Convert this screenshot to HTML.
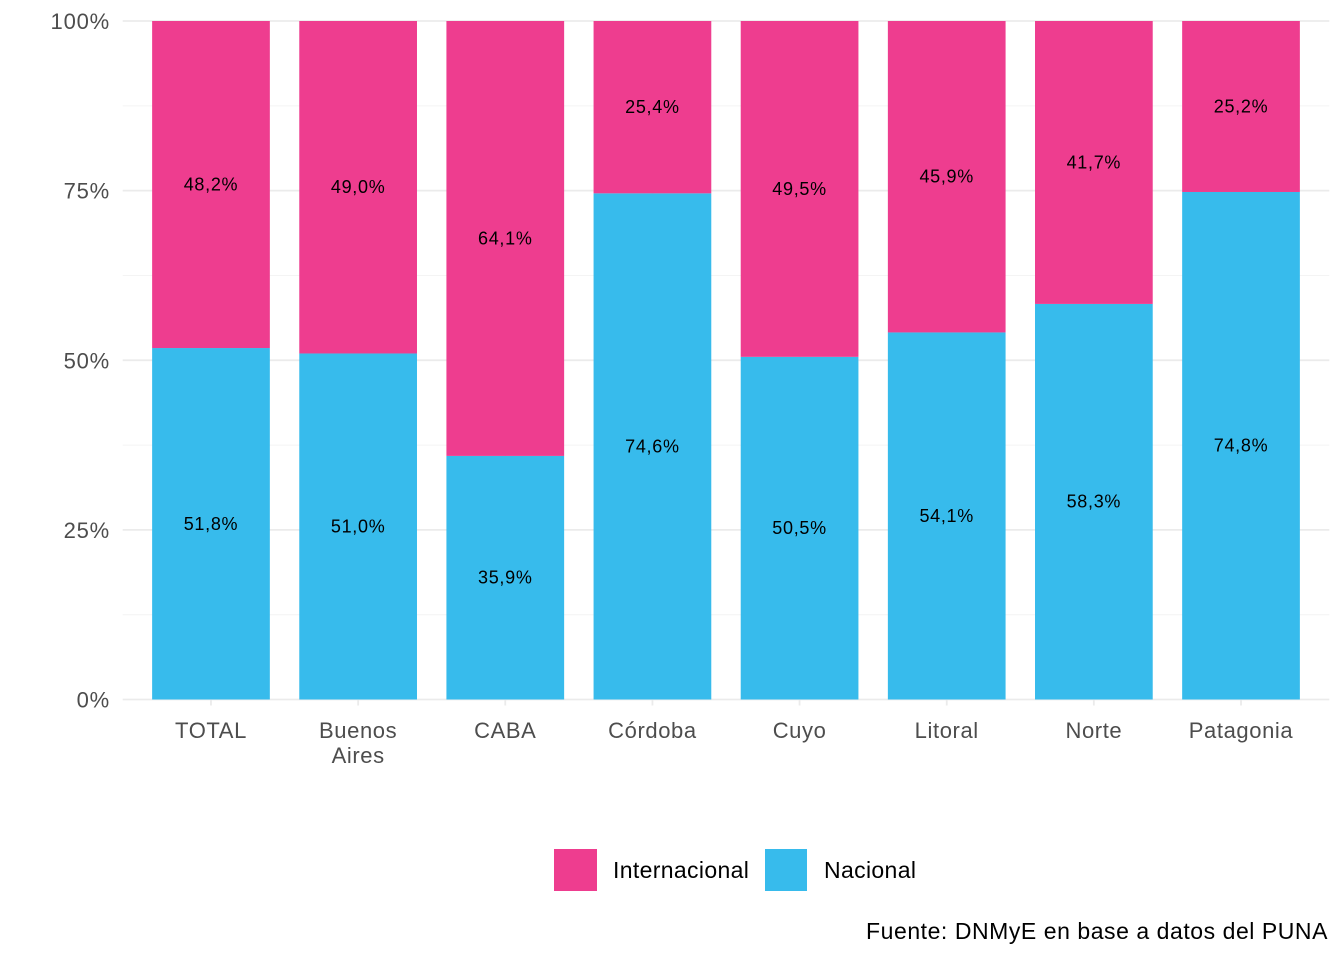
<!DOCTYPE html>
<html><head><meta charset="utf-8"><style>
body{margin:0;background:#fff;}
svg{display:block;font-family:"Liberation Sans",sans-serif;}
</style></head><body>
<svg id="chart" width="1344" height="960"></svg>
<script>
const categories=["TOTAL","Buenos Aires","CABA","Córdoba","Cuyo","Litoral","Norte","Patagonia"];
const nacional=[51.8,51.0,35.9,74.6,50.5,54.1,58.3,74.8];
const internacional=[48.2,49.0,64.1,25.4,49.5,45.9,41.7,25.2];
const yTicks=[0,25,50,75,100];
const yTickLabels=["0%","25%","50%","75%","100%"];
const NS="http://www.w3.org/2000/svg";
const svg=document.getElementById('chart');
const left=122.7,right=1329.3,y0=699.5,y100=21;
const step=(right-left)/(categories.length-1+1.2);
const bw=step*0.8;
const x=i=>left+step*0.6+i*step;
const y=v=>y0-(y0-y100)*v/100;
function mk(tag,attrs,parent){const e=document.createElementNS(NS,tag);for(const k in attrs)e.setAttribute(k,attrs[k]);(parent||svg).appendChild(e);return e;}
const grid=mk('g',{});


for(let v=12.5;v<100;v+=25){mk('line',{x1:left,x2:right,y1:y(v),y2:y(v),stroke:'#f4f4f4','stroke-width':1},grid);}
yTicks.forEach(v=>mk('line',{x1:left,x2:right,y1:y(v),y2:y(v),stroke:'#ebebeb','stroke-width':1.8},grid));
categories.forEach((c,i)=>mk('line',{x1:x(i),x2:x(i),y1:y100,y2:y0+6,stroke:'#ebebeb','stroke-width':1.8},grid));
yTicks.forEach((v,i)=>{const t=mk('text',{x:110,y:y(v)+8,'text-anchor':'end','font-size':22,'letter-spacing':0.8,fill:'#4d4d4d'});t.textContent=yTickLabels[i];

});
const fmt=v=>v.toFixed(1).replace('.',',')+'%';
categories.forEach((c,i)=>{
 const n=nacional[i],t=internacional[i];
 const rb=mk('rect',{x:x(i)-bw/2,y:y(n),width:bw,height:y0-y(n),fill:'#37BBEC'});
 
 
 const ri=mk('rect',{x:x(i)-bw/2,y:y(n+t),width:bw,height:y(n)-y(n+t),fill:'#EE3D8F'});
 
 
 const l1=mk('text',{x:x(i),y:y(n/2)+6,'text-anchor':'middle','font-size':18,'letter-spacing':0.7,fill:'#000'});l1.textContent=fmt(n);
 
 
 const l2=mk('text',{x:x(i),y:y(n+t/2)+6,'text-anchor':'middle','font-size':18,'letter-spacing':0.7,fill:'#000'});l2.textContent=fmt(t);
 
 
 const parts=c==="Buenos Aires"?["Buenos","Aires"]:[c];
 parts.forEach((p,k)=>{const tl=mk('text',{x:x(i),y:738+k*25,'text-anchor':'middle','font-size':22,'letter-spacing':0.6,fill:'#4d4d4d'});tl.textContent=p;
 
 });
});
</script>
<div style="position:absolute;left:0;top:0;width:1344px;height:960px;pointer-events:none;font-family:'Liberation Sans',sans-serif;">
 <div>
  <div style="position:absolute;left:554px;top:849px;width:43px;height:42px;background:#EE3D8F"></div>
  <div style="position:absolute;left:613px;top:857px;font-size:23px;letter-spacing:0.35px;color:#000">Internacional</div>
  <div style="position:absolute;left:765px;top:849px;width:42px;height:42px;background:#37BBEC"></div>
  <div style="position:absolute;left:824px;top:857px;font-size:23px;letter-spacing:0.35px;color:#000">Nacional</div>
 </div>
 <div style="position:absolute;right:16px;top:918px;font-size:23px;letter-spacing:0.55px;color:#000">Fuente: DNMyE en base a datos del PUNA</div>
</div>
</body></html>
